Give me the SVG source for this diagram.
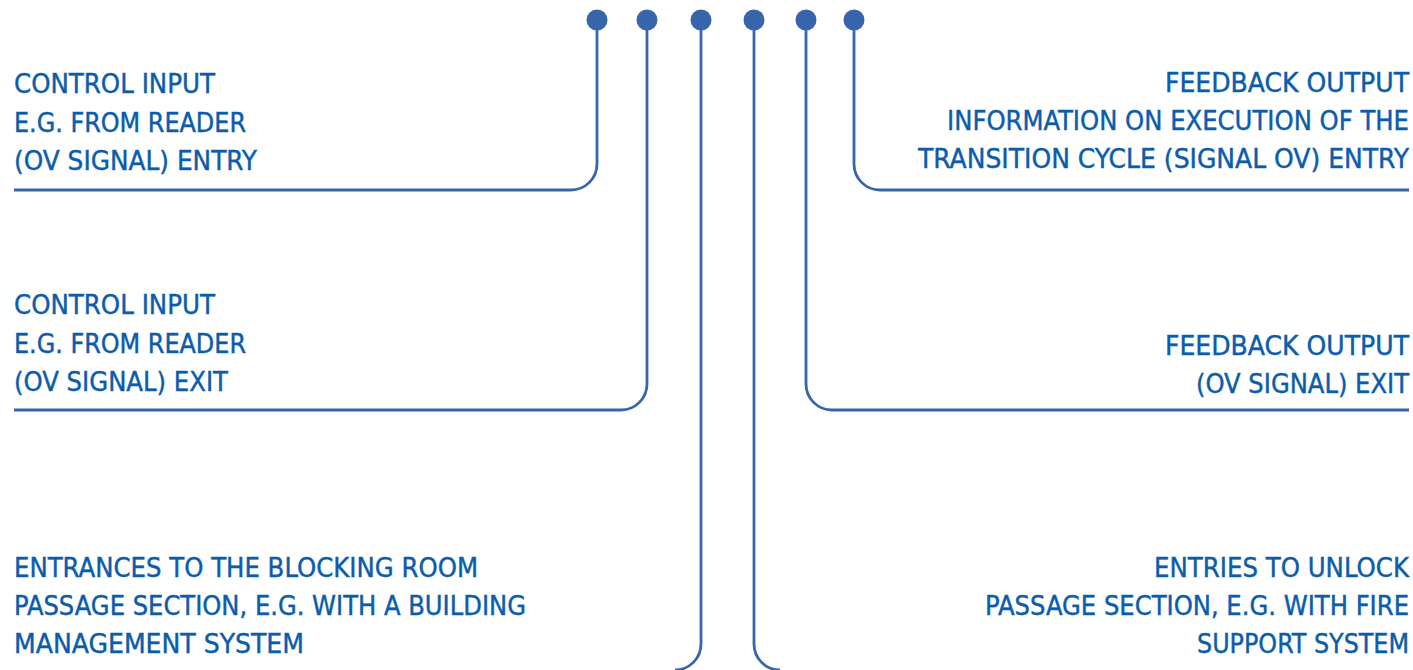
<svg xmlns="http://www.w3.org/2000/svg" width="1413" height="670" viewBox="0 0 1413 670">
<style>
.t{font-family:"DejaVu Sans Condensed","DejaVu Sans","Liberation Sans",sans-serif;font-size:26px;fill:#0b5cab;stroke:#0b5cab;stroke-width:0.4;}
.r{text-anchor:end;}
.c{fill:none;stroke:#3764aa;stroke-width:2.8;}
.d{fill:#3764aa;}
</style>
<rect width="1413" height="670" fill="#ffffff"/>
<g id="connectors">
<path class="c" d="M597,20 V164 A26,26 0 0 1 571,190 H14"/>
<path class="c" d="M647,20 V384 A26,26 0 0 1 621,410 H14"/>
<path class="c" d="M701,20 V644 A26,26 0 0 1 675,670"/>
<path class="c" d="M754,20 V644 A26,26 0 0 0 780,670"/>
<path class="c" d="M806,20 V384 A26,26 0 0 0 832,410 H1409"/>
<path class="c" d="M854,20 V164 A26,26 0 0 0 880,190 H1409"/>
</g>
<g id="pins">
<circle class="d" cx="597" cy="20" r="10.5"/>
<circle class="d" cx="647" cy="20" r="10.5"/>
<circle class="d" cx="701" cy="20" r="10.5"/>
<circle class="d" cx="754" cy="20" r="10.5"/>
<circle class="d" cx="806" cy="20" r="10.5"/>
<circle class="d" cx="854" cy="20" r="10.5"/>
</g>
<g id="label-control-entry">
<text class="t" x="14" y="93" textLength="201" lengthAdjust="spacingAndGlyphs">CONTROL INPUT</text>
<text class="t" x="14" y="132" textLength="232" lengthAdjust="spacingAndGlyphs">E.G. FROM READER</text>
<text class="t" x="14" y="170" textLength="243" lengthAdjust="spacingAndGlyphs">(OV SIGNAL) ENTRY</text>
</g>
<g id="label-control-exit">
<text class="t" x="14" y="314" textLength="201" lengthAdjust="spacingAndGlyphs">CONTROL INPUT</text>
<text class="t" x="14" y="353" textLength="232" lengthAdjust="spacingAndGlyphs">E.G. FROM READER</text>
<text class="t" x="14" y="391" textLength="214" lengthAdjust="spacingAndGlyphs">(OV SIGNAL) EXIT</text>
</g>
<g id="label-blocking">
<text class="t" x="14" y="577" textLength="464" lengthAdjust="spacingAndGlyphs">ENTRANCES TO THE BLOCKING ROOM</text>
<text class="t" x="14" y="615" textLength="512" lengthAdjust="spacingAndGlyphs">PASSAGE SECTION, E.G. WITH A BUILDING</text>
<text class="t" x="14" y="653" textLength="290" lengthAdjust="spacingAndGlyphs">MANAGEMENT SYSTEM</text>
</g>
<g id="label-feedback-entry">
<text class="t r" x="1409" y="92" textLength="244" lengthAdjust="spacingAndGlyphs">FEEDBACK OUTPUT</text>
<text class="t r" x="1409" y="130" textLength="462" lengthAdjust="spacingAndGlyphs">INFORMATION ON EXECUTION OF THE</text>
<text class="t r" x="1409" y="168" textLength="491" lengthAdjust="spacingAndGlyphs">TRANSITION CYCLE (SIGNAL OV) ENTRY</text>
</g>
<g id="label-feedback-exit">
<text class="t r" x="1409" y="355" textLength="244" lengthAdjust="spacingAndGlyphs">FEEDBACK OUTPUT</text>
<text class="t r" x="1409" y="393" textLength="213" lengthAdjust="spacingAndGlyphs">(OV SIGNAL) EXIT</text>
</g>
<g id="label-unlock">
<text class="t r" x="1409" y="577" textLength="255" lengthAdjust="spacingAndGlyphs">ENTRIES TO UNLOCK</text>
<text class="t r" x="1409" y="615" textLength="424" lengthAdjust="spacingAndGlyphs">PASSAGE SECTION, E.G. WITH FIRE</text>
<text class="t r" x="1409" y="653" textLength="212" lengthAdjust="spacingAndGlyphs">SUPPORT SYSTEM</text>
</g>
</svg>
